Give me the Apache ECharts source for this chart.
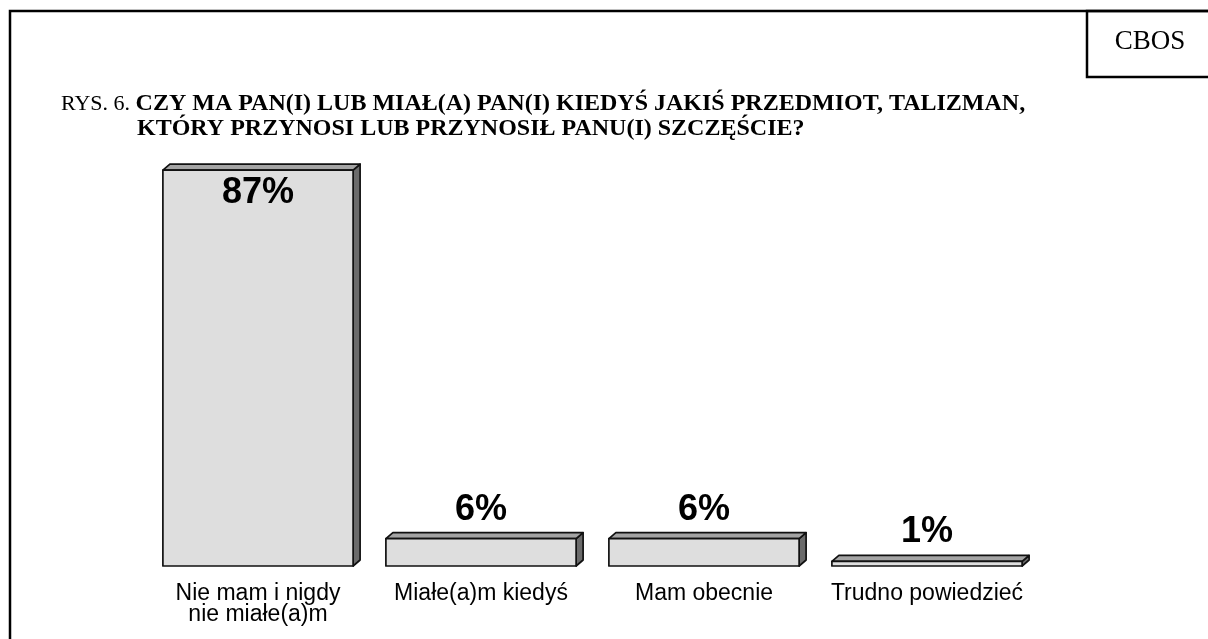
<!DOCTYPE html>
<html>
<head>
<meta charset="utf-8">
<script src="https://cdn.jsdelivr.net/npm/echarts@6/dist/echarts.min.js"></script>
<style>
  html, body { margin: 0; padding: 0; background: #fff; }
  #main { width: 1208px; height: 639px; }
</style>
</head>
<body>
<div id="main"></div>
<script>
// dane z wykresu
var categories = ['Nie mam i nigdy\nnie miałe(a)m', 'Miałe(a)m kiedyś', 'Mam obecnie', 'Trudno powiedzieć'];
var values = [87, 6, 6, 1];
var yMin = 0;
var yMax = 100;

var titleLine1 = 'CZY MA PAN(I) LUB MIAŁ(A) PAN(I) KIEDYŚ JAKIŚ PRZEDMIOT, TALIZMAN,';
var titleLine2 = 'KTÓRY PRZYNOSI LUB PRZYNOSIŁ PANU(I) SZCZĘŚCIE?';

var serif = '"Liberation Serif", "Times New Roman", serif';
var sans = '"Liberation Sans", Arial, sans-serif';

var depthX = 7, depthY = 6;

function renderBar(params, api) {
  var idx = api.value(0);
  var val = api.value(1);
  var top = api.coord([idx, val]);
  var base = api.coord([idx, 0]);
  var bw = api.size([1, 0])[0] * 0.853;
  var x0 = top[0] - bw / 2;
  var x1 = top[0] + bw / 2;
  var yT = top[1];
  var yB = base[1];
  var line = { stroke: '#111', lineWidth: 1.7, lineJoin: 'round' };

  // wysokie słupki mają etykietę w środku, niskie nad słupkiem
  var inside = (yB - yT) > 80;
  var labelY = inside ? yT + 23 : yT - depthY - 23;

  return {
    type: 'group',
    children: [
      {
        type: 'polygon',
        shape: { points: [[x1, yT], [x1 + depthX, yT - depthY], [x1 + depthX, yB - depthY], [x1, yB]] },
        style: Object.assign({ fill: '#6b6b6b' }, line)
      },
      {
        type: 'polygon',
        shape: { points: [[x0, yT], [x0 + depthX, yT - depthY], [x1 + depthX, yT - depthY], [x1, yT]] },
        style: Object.assign({ fill: '#a4a4a4' }, line)
      },
      {
        type: 'rect',
        shape: { x: x0, y: yT, width: bw, height: yB - yT },
        style: Object.assign({ fill: '#dedede' }, line)
      },
      {
        type: 'text',
        style: {
          text: val + '%',
          x: top[0],
          y: labelY,
          align: 'center',
          verticalAlign: 'middle',
          font: 'bold 36px ' + sans,
          fill: '#000'
        }
      }
    ]
  };
}

var myChart = echarts.init(document.getElementById('main'));

var option = {
  backgroundColor: '#fff',
  animation: false,
  title: [
    {
      left: 61,
      top: 92,
      padding: 0,
      text: '{r|RYS. 6. }{b|' + titleLine1 + '}',
      textStyle: {
        rich: {
          r: { fontFamily: serif, fontSize: 22, fontWeight: 'normal', color: '#000' },
          b: { fontFamily: serif, fontSize: 24, fontWeight: 'bold', color: '#000' }
        }
      }
    },
    {
      left: 137,
      top: 117,
      padding: 0,
      text: titleLine2,
      textStyle: { fontFamily: serif, fontSize: 24, fontWeight: 'bold', color: '#000' }
    }
  ],
  graphic: [
    {
      type: 'rect',
      shape: { x: 10, y: 11, width: 1230, height: 660 },
      style: { fill: 'none', stroke: '#000', lineWidth: 2.5 },
      silent: true
    },
    {
      type: 'rect',
      shape: { x: 1087, y: 11, width: 150, height: 66 },
      style: { fill: 'none', stroke: '#000', lineWidth: 2.5 },
      silent: true
    },
    {
      type: 'text',
      x: 1150,
      y: 42,
      style: {
        text: 'CBOS',
        align: 'center',
        verticalAlign: 'middle',
        font: '27px ' + serif,
        fill: '#000'
      }
    }
  ],
  grid: {
    left: 146.5,
    right: 169.5,
    top: 111,
    bottom: 73,
    containLabel: false
  },
  xAxis: {
    type: 'category',
    data: categories,
    axisLine: { show: false },
    axisTick: { show: false },
    axisLabel: {
      interval: 0,
      margin: 17,
      fontFamily: sans,
      fontSize: 23,
      lineHeight: 21,
      color: '#000'
    }
  },
  yAxis: {
    type: 'value',
    min: yMin,
    max: yMax,
    show: false,
    splitLine: { show: false }
  },
  series: [
    {
      type: 'custom',
      renderItem: renderBar,
      encode: { x: 0, y: 1 },
      data: values.map(function (v, i) { return [i, v]; }),
      clip: false
    }
  ]
};

myChart.setOption(option);
</script>
</body>
</html>
